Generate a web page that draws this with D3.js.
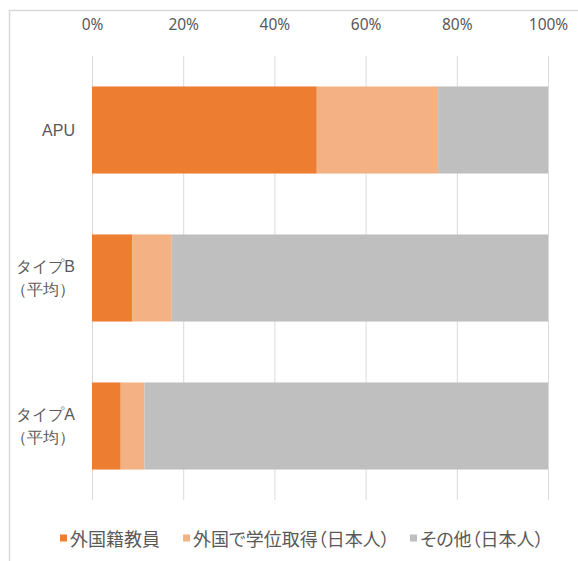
<!DOCTYPE html>
<html>
<head>
<meta charset="utf-8">
<script src="https://cdn.jsdelivr.net/npm/d3@7"></script>
<style>
  html, body { margin: 0; padding: 0; background: #fff; }
  svg { display: block; font-family: 'Noto Sans CJK JP', 'Noto Sans', sans-serif; }
  .jp { font-feature-settings: "palt"; }
</style>
</head>
<body>
<div id="chart"></div>
<script>
// ---- data ----
const categories = ['APU', 'タイプB\n（平均）', 'タイプA\n（平均）'];
const seriesNames = ['外国籍教員', '外国で学位取得（日本人）', 'その他（日本人）'];
const seriesColors = ['#ED7D31', '#F4B183', '#BFBFBF'];
const foreignStaff = [49.3, 8.8, 6.3];
const foreignDegree = [26.6, 8.7, 5.2];
const otherJapanese = [24.1, 82.5, 88.5];
const tickValues = [0, 20, 40, 60, 80, 100];

const W = 578, H = 561;
const margin = { top: 56, left: 92, right: 30, bottom: 61 };
const plotW = 456, plotH = H - margin.top - margin.bottom;

const svg = d3.select('#chart').append('svg')
  .attr('width', W).attr('height', H);

// chart frame
svg.append('path')
  .attr('d', `M 9.5,${H} V 10.5 H ${W}`)
  .attr('fill', 'none')
  .attr('stroke', '#D9D9D9')
  .attr('stroke-width', 1.5);

const g = svg.append('g').attr('transform', `translate(${margin.left},${margin.top})`);

const x = d3.scaleLinear().domain([0, 100]).range([0, plotW]);
const y = d3.scaleBand().domain(categories).range([0, plotH]).paddingInner(0.7 / 1.7).paddingOuter(0.35 / 1.7);

// gridlines
g.append('g')
  .attr('class', 'grid-lines')
  .call(d3.axisTop(x).tickValues(tickValues).tickSize(-plotH).tickFormat(''))
  .call(a => a.select('.domain').remove())
  .selectAll('line')
  .attr('stroke', '#D9D9D9')
  .attr('stroke-width', 1);

// tick labels on top
const xAxis = g.append('g')
  .attr('transform', 'translate(0,-23)')
  .call(d3.axisTop(x).tickValues(tickValues).tickSize(0).tickFormat(d => d + '%'));
xAxis.select('.domain').remove();
xAxis.selectAll('text')
  .attr('fill', '#595959')
  .style('font-size', '15.5px')
  .style('font-family', "'Noto Sans', sans-serif");

// stacked bars
const rows = categories.map((c, i) => ({
  cat: c, v0: foreignStaff[i], v1: foreignDegree[i], v2: otherJapanese[i]
}));
const stack = d3.stack().keys(['v0', 'v1', 'v2'])(rows);

g.selectAll('g.series')
  .data(stack)
  .join('g')
  .attr('class', 'series')
  .attr('fill', (d, i) => seriesColors[i])
  .selectAll('rect')
  .data(d => d)
  .join('rect')
  .attr('x', d => x(d[0]))
  .attr('width', d => x(d[1]) - x(d[0]))
  .attr('y', d => y(d.data.cat))
  .attr('height', y.bandwidth());

// category labels
const yAxis = g.append('g')
  .call(d3.axisLeft(y).tickSize(0).tickFormat(''));
yAxis.select('.domain').remove();
yAxis.selectAll('.tick').each(function(d) {
  const lines = d.split('\n');
  const t = d3.select(this).append('text')
    .attr('class', 'jp')
    .attr('x', -17)
    .attr('text-anchor', 'end')
    .attr('fill', '#595959')
    .style('font-size', '16px');
  lines.forEach((line, i) => {
    t.append('tspan')
      .attr('x', -17)
      .attr('dy', i === 0 ? `${0.35 - (lines.length - 1) * 0.7}em` : '1.4em')
      .text(line);
  });
});

// legend
const legendX = [60, 183, 410];
const legend = svg.append('g').attr('transform', 'translate(0,538)');
seriesNames.forEach((name, i) => {
  const item = legend.append('g').attr('transform', `translate(${legendX[i]},0)`);
  item.append('rect')
    .attr('x', 0).attr('y', -3.5).attr('width', 7).attr('height', 7)
    .attr('fill', seriesColors[i]);
  item.append('text')
    .attr('class', 'jp')
    .attr('x', 10).attr('y', 0)
    .attr('dominant-baseline', 'central')
    .attr('fill', '#595959')
    .style('font-size', '18px')
    .text(name);
});
</script>
</body>
</html>
